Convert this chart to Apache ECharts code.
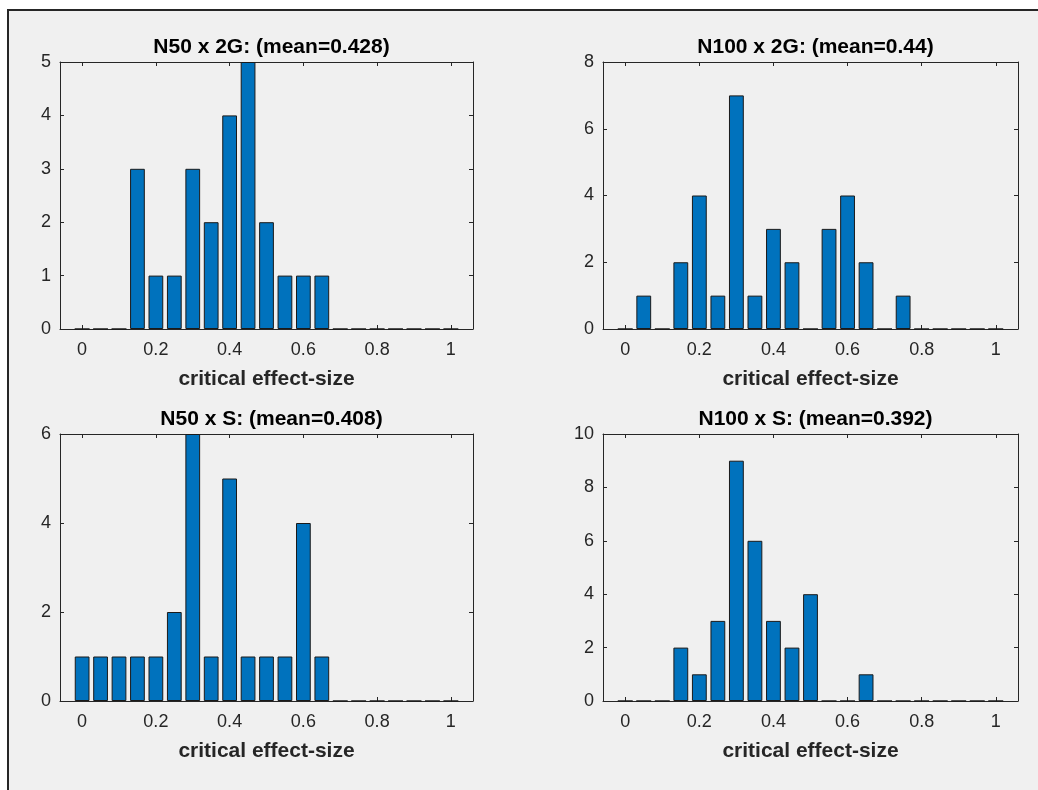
<!DOCTYPE html>
<html>
<head>
<meta charset="utf-8">
<script src="https://cdn.jsdelivr.net/npm/echarts@6/dist/echarts.min.js"></script>
<style>
  html, body { margin: 0; padding: 0; background: #ffffff; }
  #frame { position: absolute; left: 7px; top: 9px; width: 1031px; height: 781px;
           background: #f0f0f0; border-left: 2px solid #262626; border-top: 2px solid #262626; box-sizing: border-box; }
  #chart { position: absolute; left: 0; top: 0; width: 1038px; height: 790px; }
</style>
</head>
<body>
<div id="frame"></div>
<div id="chart"></div>
<script>
// Histogram bin centres (critical effect-size)
const binCenters = [0, 0.05, 0.1, 0.15, 0.2, 0.25, 0.3, 0.35, 0.4, 0.45, 0.5,
                    0.55, 0.6, 0.65, 0.7, 0.75, 0.8, 0.85, 0.9, 0.95, 1];
// Counts per bin for each condition
const countsN50x2G  = [0, 0, 0, 3, 1, 1, 3, 2, 4, 5, 2, 1, 1, 1, 0, 0, 0, 0, 0, 0, 0];
const countsN100x2G = [0, 1, 0, 2, 4, 1, 7, 1, 3, 2, 0, 3, 4, 2, 0, 1, 0, 0, 0, 0, 0];
const countsN50xS   = [1, 1, 1, 1, 1, 2, 6, 1, 5, 1, 1, 1, 4, 1, 0, 0, 0, 0, 0, 0, 0];
const countsN100xS  = [0, 0, 0, 2, 1, 3, 9, 6, 3, 2, 4, 0, 0, 1, 0, 0, 0, 0, 0, 0, 0];

const panelTitles = ['N50 x 2G: (mean=0.428)', 'N100 x 2G: (mean=0.44)',
                     'N50 x S: (mean=0.408)', 'N100 x S: (mean=0.392)'];
const xTickValues = [0, 0.2, 0.4, 0.6, 0.8, 1];
const xLabelText = 'critical effect-size';
const yMax = [5, 8, 6, 10];
const yStep = [1, 2, 2, 2];

const panelCounts = [countsN50x2G, countsN100x2G, countsN50xS, countsN100xS];

const FONT = "'Liberation Sans', Arial, Helvetica, sans-serif";
const INK = '#262626';

const grids = [
  { left: 60,  top: 62,  width: 413, height: 267 },
  { left: 603, top: 62,  width: 415, height: 267 },
  { left: 60,  top: 434, width: 413, height: 267 },
  { left: 603, top: 434, width: 415, height: 267 }
];

const xAxes = [], yAxes = [], series = [], titles = [];
grids.forEach((g, i) => {
  const lineStyle = { color: INK, width: 1 };
  // bottom axis with labels
  xAxes.push({
    type: 'value', gridIndex: i, position: 'bottom', min: -0.06, max: 1.06,
    axisLine: { show: true, onZero: false, lineStyle },
    axisTick: { show: true, inside: true, length: 4, lineStyle, customValues: xTickValues },
    axisLabel: { show: true, customValues: xTickValues, color: INK, fontSize: 18,
                 fontFamily: FONT, margin: 12 },
    splitLine: { show: false },
    name: xLabelText, nameLocation: 'middle', nameGap: 40,
    nameTextStyle: { color: INK, fontSize: 21, fontWeight: 'bold', fontFamily: FONT }
  });
  // top box edge
  xAxes.push({
    type: 'value', gridIndex: i, position: 'top', min: -0.06, max: 1.06,
    axisLine: { show: true, onZero: false, lineStyle },
    axisTick: { show: true, inside: true, length: 4, lineStyle, customValues: xTickValues },
    axisLabel: { show: false }, splitLine: { show: false }
  });
  // left axis with labels
  yAxes.push({
    type: 'value', gridIndex: i, position: 'left', min: 0, max: yMax[i], interval: yStep[i],
    axisLine: { show: true, onZero: false, lineStyle },
    axisTick: { show: true, inside: true, length: 4, lineStyle },
    axisLabel: { show: true, color: INK, fontSize: 18, fontFamily: FONT, margin: 9 },
    splitLine: { show: false }
  });
  // right box edge
  yAxes.push({
    type: 'value', gridIndex: i, position: 'right', min: 0, max: yMax[i], interval: yStep[i],
    axisLine: { show: true, onZero: false, lineStyle },
    axisTick: { show: true, inside: true, length: 4, lineStyle },
    axisLabel: { show: false }, splitLine: { show: false }
  });
  series.push({
    type: 'bar', xAxisIndex: i * 2, yAxisIndex: i * 2,
    data: binCenters.map((x, k) => [x, panelCounts[i][k]]),
    barWidth: '80%',
    itemStyle: { color: '#0072BD', borderColor: '#1a1a1a', borderWidth: 1 },
    silent: true, animation: false
  });
  titles.push({
    text: panelTitles[i], left: g.left + g.width / 2, top: g.top - 30, textAlign: 'center',
    textStyle: { color: '#000', fontSize: 21, fontWeight: 'bold', fontFamily: FONT }
  });
});

const chart = echarts.init(document.getElementById('chart'), null, { renderer: 'canvas' });
chart.setOption({
  backgroundColor: 'transparent',
  animation: false,
  title: titles,
  grid: grids,
  xAxis: xAxes,
  yAxis: yAxes,
  series: series
});
</script>
</body>
</html>
